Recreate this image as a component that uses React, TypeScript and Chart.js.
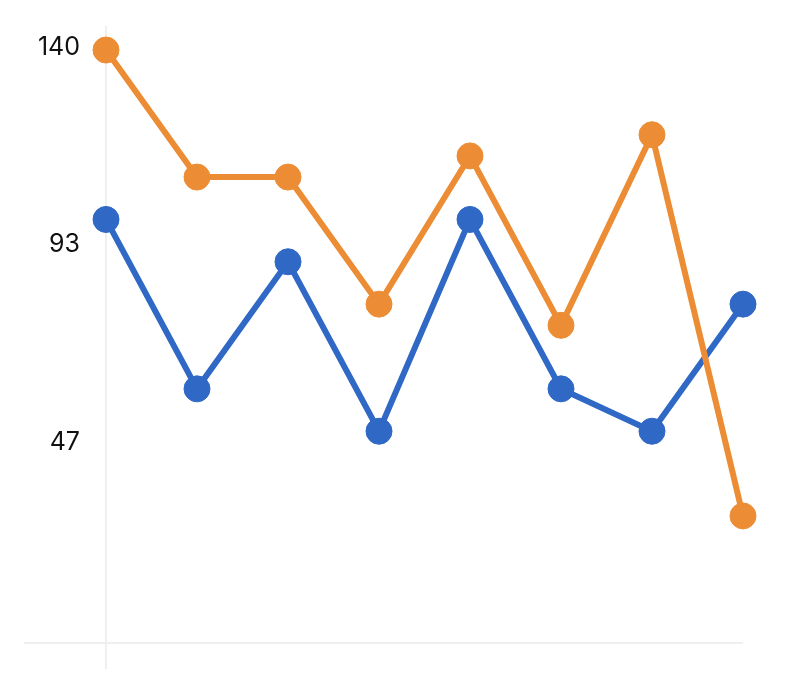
import React, { useEffect, useRef } from "react";
import { Chart, registerables } from "chart.js";

Chart.register(...registerables);

const categories = ["1", "2", "3", "4", "5", "6", "7", "8"];
const blueValues = [100, 60, 90, 50, 100, 60, 50, 80];
const orangeValues = [140, 110, 110, 80, 115, 75, 120, 30];
const yTicks = [0, 140 / 3, 280 / 3, 140];

const BLUE = "#2F68C5";
const ORANGE = "#EC8D35";
const GRID = "#efefef";

export default function App() {
  const ref = useRef<HTMLCanvasElement | null>(null);

  useEffect(() => {
    if (!ref.current) return;
    const chart = new Chart(ref.current, {
      type: "line",
      data: {
        labels: categories,
        datasets: [
          {
            label: "B",
            data: orangeValues,
            borderColor: ORANGE,
            backgroundColor: ORANGE,
            pointBackgroundColor: ORANGE,
            pointBorderColor: ORANGE,
            borderWidth: 6,
            pointRadius: 13,
            pointBorderWidth: 1,
            tension: 0,
            clip: false as any,
          },
          {
            label: "A",
            data: blueValues,
            borderColor: BLUE,
            backgroundColor: BLUE,
            pointBackgroundColor: BLUE,
            pointBorderColor: BLUE,
            borderWidth: 6,
            pointRadius: 13,
            pointBorderWidth: 1,
            tension: 0,
            clip: false as any,
          },
        ],
      },
      options: {
        animation: false,
        responsive: true,
        maintainAspectRatio: false,
        layout: { padding: { left: 0, top: 26, right: 67, bottom: 0 } },
        plugins: {
          legend: { display: false },
          tooltip: { enabled: false },
        },
        scales: {
          x: {
            type: "category",
            offset: false,
            border: { display: false },
            grid: {
              color: (ctx: any) => (ctx.index === 0 ? GRID : "rgba(0,0,0,0)"),
              lineWidth: 2,
              drawTicks: true,
              tickLength: 26,
            },
            ticks: { display: false },
            afterFit: (s: any) => {
              s.height = 47;
            },
          },
          y: {
            type: "linear",
            min: 0,
            max: 145.67,
            border: { display: false },
            grid: {
              color: (ctx: any) =>
                ctx.tick && ctx.tick.value === 0 ? GRID : "rgba(0,0,0,0)",
              lineWidth: 2,
              drawTicks: true,
              tickLength: 82,
            },
            afterBuildTicks: (s: any) => {
              s.ticks = yTicks.map((v) => ({ value: v }));
            },
            ticks: {
              padding: -56,
              labelOffset: -3,
              color: "#111111",
              font: { family: "Inter, 'Liberation Sans', sans-serif", size: 25 },
              callback: (v: any) => (Number(v) === 0 ? "" : String(Math.round(Number(v)))),
            },
            afterFit: (s: any) => {
              s.width = 106;
            },
          },
        },
      },
    });
    return () => chart.destroy();
  }, []);

  return (
    <div style={{ position: "fixed", left: 0, top: 0, width: 810, height: 690, background: "#fff" }}>
      <canvas ref={ref} />
    </div>
  );
}
